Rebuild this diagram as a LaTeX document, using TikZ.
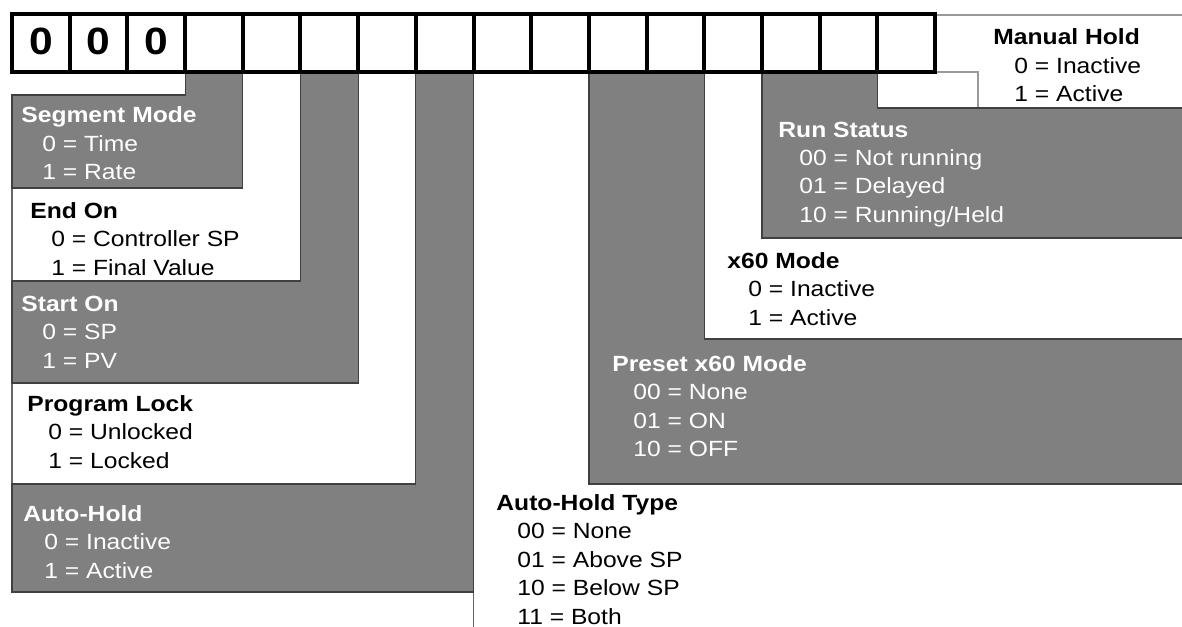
\documentclass[tikz,border=0pt]{standalone}
\usepackage{fontspec}
\setmainfont{Liberation Sans}[FakeStretch=1.12]
\usepackage{tikz}
\newcommand{\field}[2]{\begin{tabular}[t]{@{}l@{}}\textbf{#1}\\#2\end{tabular}}
\newcommand{\opt}[1]{\hspace*{10.5pt}#1}

\begin{document}
\begin{tikzpicture}[x=0.5pt, y=-0.5pt,
  graybox/.style={fill=black!50, draw=black!75, line width=0.6pt},
  whitebox/.style={fill=white, draw=black!60, line width=0.6pt},
  faint/.style={draw=black!40, line width=0.6pt},
  cell/.style={draw, line width=2pt, fill=white, minimum width=28.85pt,
    minimum height=29pt, inner sep=0pt},
  digit/.style={font=\fontsize{19}{19}\selectfont\bfseries, inner sep=0pt,
    yshift=0.75pt},
  fieldtext/.style={anchor=base west, inner sep=0pt,
    font=\fontsize{11}{14.25}\selectfont},
  ongray/.style={fieldtext, text=white},
  onwhite/.style={fieldtext, text=black}]
\path[fill=white, use as bounding box] (0,0) rectangle (1182,626);

\path[whitebox] (242.8,72) -- (300.5,72) -- (300.5,281) -- (12,281) -- (12,188) -- (242.8,188) -- cycle;
\path[whitebox] (358.1,72) -- (415.8,72) -- (415.8,484) -- (12,484) -- (12,383) -- (358.1,383) -- cycle;
\path[whitebox] (473.5,72) -- (588.9,72) -- (588.9,484) -- (1200,484) -- (1200,640) -- (473.5,640) -- cycle;
\path[whitebox] (704.3,72) -- (762,72) -- (762,238) -- (1200,238) -- (1200,339) -- (704.3,339) -- cycle;
\draw[faint] (935,15) -- (1200,15);
\draw[faint] (877.4,72) -- (877.4,108);
\draw[faint] (935,72) -- (978,72) -- (978,108);

\path[graybox] (185.1,72) -- (242.8,72) -- (242.8,188) -- (12,188) -- (12,95) -- (185.1,95) -- cycle;
\path[graybox] (300.5,72) -- (358.1,72) -- (358.1,383) -- (12,383) -- (12,281) -- (300.5,281) -- cycle;
\path[graybox] (415.8,72) -- (473.5,72) -- (473.5,592) -- (12,592) -- (12,484) -- (415.8,484) -- cycle;
\path[graybox] (588.9,72) -- (704.3,72) -- (704.3,339) -- (1200,339) -- (1200,484) -- (588.9,484) -- cycle;
\path[graybox] (762,72) -- (877.4,72) -- (877.4,108) -- (1200,108) -- (1200,238) -- (762,238) -- cycle;

\foreach \i in {0,...,15}
  \node (c\i) [cell] at ({40.85+57.69*\i},43) {};
\foreach \i in {0,1,2}
  \node (d\i) [digit] at (c\i) {0};

\node (segmode) [ongray] at (21,123)
  {\field{Segment Mode}{\opt{0 = Time}\\\opt{1 = Rate}}};
\node (endon) [onwhite] at (30,218)
  {\field{End On}{\opt{0 = Controller SP}\\\opt{1 = Final Value}}};
\node (starton) [ongray] at (21,311)
  {\field{Start On}{\opt{0 = SP}\\\opt{1 = PV}}};
\node (proglock) [onwhite] at (27,411)
  {\field{Program Lock}{\opt{0 = Unlocked}\\\opt{1 = Locked}}};
\node (autohold) [ongray] at (23,521)
  {\field{Auto-Hold}{\opt{0 = Inactive}\\\opt{1 = Active}}};
\node (holdtype) [onwhite] at (496,510)
  {\field{Auto-Hold Type}{\opt{00 = None}\\\opt{01 = Above SP}\\
   \opt{10 = Below SP}\\\opt{11 = Both}}};
\node (presetmode) [ongray] at (612,371)
  {\field{Preset x60 Mode}{\opt{00 = None}\\\opt{01 = ON}\\\opt{10 = OFF}}};
\node (sixtymode) [onwhite] at (727,268)
  {\field{x60 Mode}{\opt{0 = Inactive}\\\opt{1 = Active}}};
\node (runstatus) [ongray] at (778,137)
  {\field{Run Status}{\opt{00 = Not running}\\\opt{01 = Delayed}\\
   \opt{10 = Running/Held}}};
\node (manhold) [onwhite] at (993,45)
  {\field{Manual Hold}{\opt{0 = Inactive}\\\opt{1 = Active}}};
\end{tikzpicture}
\end{document}
